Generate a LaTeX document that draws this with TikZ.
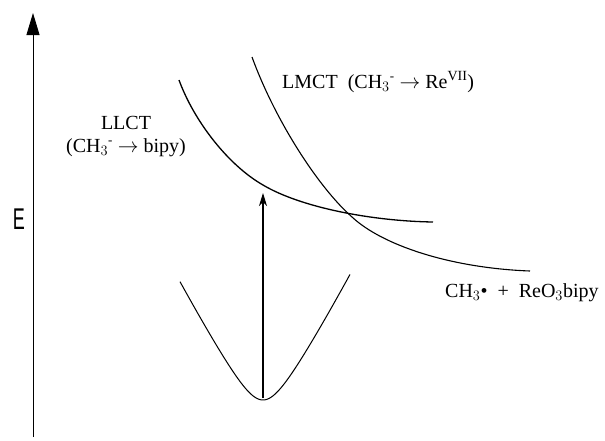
\documentclass[tikz,border=0pt]{standalone}
\usepackage{graphicx}
\usepackage{fontspec}
\setmainfont{Liberation Serif}
\setsansfont{Liberation Sans}
\usetikzlibrary{arrows.meta}
\newcommand{\minussup}{{}^{\mbox{\fontsize{13}{13}\selectfont -}}}
\begin{document}
\begin{tikzpicture}[x=1pt,y=-1pt,
  lbl/.style={inner sep=0pt,font=\fontsize{20}{23}\selectfont}]
\useasboundingbox (0,0) rectangle (605,440);
% energy axis
\coordinate (axb) at (33,437);
\coordinate (axt) at (33,13);
\draw[line width=0.9pt,-{Triangle[length=22pt,width=13pt]}] (axb) -- (axt);
\node[inner sep=0pt,font=\sffamily\fontsize{30}{30}\selectfont] (E) at (19,219) {\scalebox{0.6}[1]{E}};
% LLCT curve
\coordinate (l0) at (179,80);
\coordinate (l1) at (263,185);
\coordinate (l2) at (433,222);
\draw[line width=1.3pt] (l0) .. controls (194,121) and (228,165) .. (l1)
                             .. controls (300,207) and (370,221) .. (l2);
% LMCT curve
\coordinate (m0) at (252,57);
\coordinate (m1) at (352,217);
\coordinate (m2) at (530,271);
\draw[line width=1.1pt] (m0) .. controls (275,120) and (318,187) .. (m1)
                             .. controls (382,245) and (450,268) .. (m2);
% ground state
\draw[line width=1.0pt] plot[domain=180:350,samples=100]
  (\x,{400-(0.0007*(\x-263)^2+1.736*(sqrt(400+(\x-263)^2)-20))});
% excitation arrow
\coordinate (gs) at (263,398);
\coordinate (ex) at (263,193);
\draw[line width=1.2pt,-{Stealth[length=13pt,width=8pt,inset=4pt]}] (gs) -- (ex);
% labels
\node[lbl,anchor=base west] (lmct) at (282,88) {LMCT\ \ (CH$_3\minussup$ $\rightarrow$ Re$^{\mbox{\fontsize{14}{14}\selectfont VII}}$)};
\node[lbl,anchor=base] (llct1) at (126,129) {LLCT};
\node[lbl,anchor=base] (llct2) at (126,152) {(CH$_3\minussup$ $\rightarrow$ bipy)};
\node[lbl,anchor=base west] (prod) at (445,297) {CH$_3$\textbullet\ \ +\ \ ReO$_3$bipy};
\end{tikzpicture}
\end{document}
